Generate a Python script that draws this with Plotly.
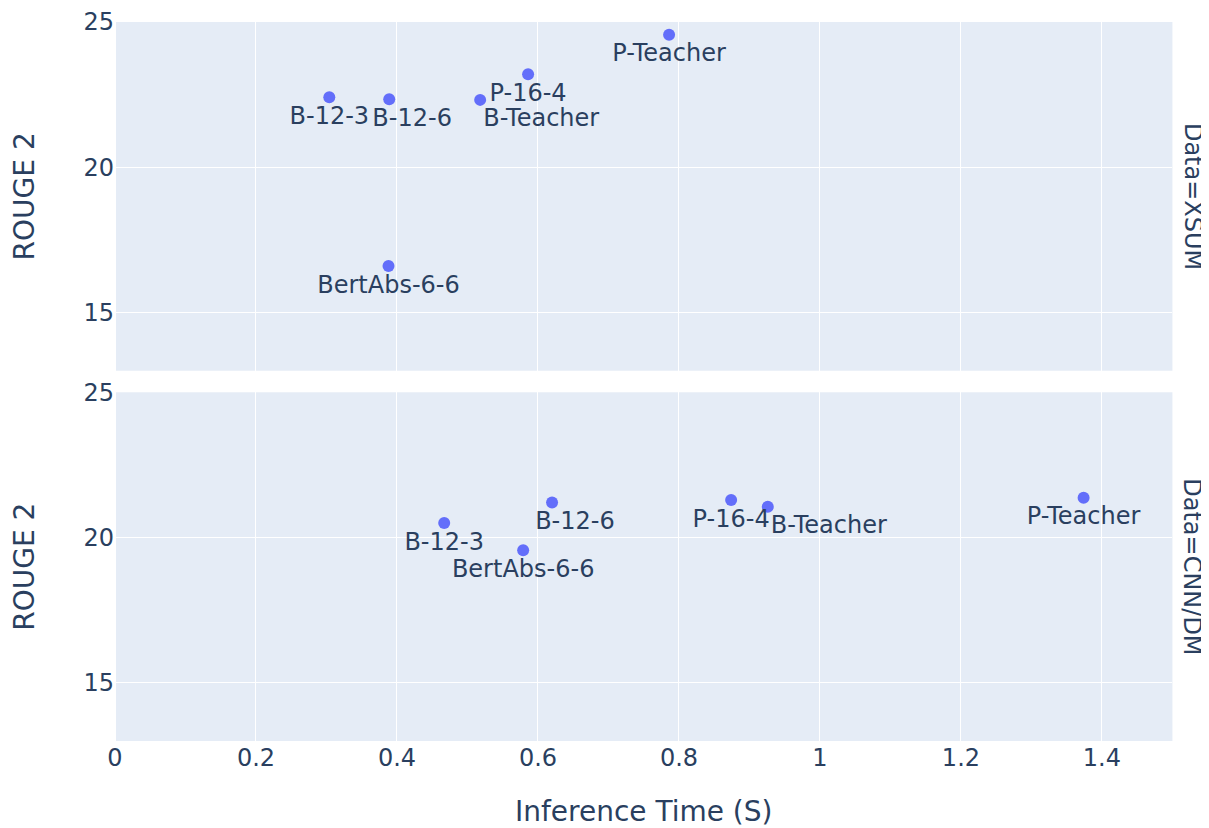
import pandas as pd
import plotly.express as px

NB = "\u00a0"
models = ["P-Teacher", "P-16-4", "B-Teacher", "B-12-6", "B-12-3", "BertAbs-6-6"]
labels = ["P-Teacher", "P-16-4", NB * 16 + "B-Teacher", NB * 6 + "B-12-6", "B-12-3", "BertAbs-6-6"]

xsum_time = [0.786, 0.586, 0.518, 0.389, 0.304, 0.388]
xsum_rouge = [24.56, 23.20, 22.32, 22.34, 22.41, 16.60]
cnn_time = [1.374, 0.874, 0.926, 0.620, 0.467, 0.579]
cnn_rouge = [21.37, 21.29, 21.06, 21.21, 20.50, 19.56]

datasets = ["XSUM", "CNN/DM"]

df = pd.DataFrame({
    "Model": models + models,
    "Label": labels + labels,
    "Inference Time (S)": xsum_time + cnn_time,
    "ROUGE 2": xsum_rouge + cnn_rouge,
    "Data": [datasets[0]] * len(models) + [datasets[1]] * len(models),
})

fig = px.scatter(
    df, x="Inference Time (S)", y="ROUGE 2", facet_row="Data", text="Label",
    category_orders={"Data": datasets},
)
fig.update_traces(textposition="bottom center", marker=dict(size=12),
                  textfont=dict(size=24, family="DejaVu Sans"))
fig.update_xaxes(range=[0, 1.5], domain=[0, 0.98], automargin=False,
                 tickfont=dict(size=24), title_font=dict(size=28))
fig.update_xaxes(title_standoff=33, row=1)
fig.update_yaxes(range=[13, 25], dtick=5, automargin=False,
                 tickfont=dict(size=24), title_font=dict(size=28), title_standoff=44)
fig.for_each_annotation(lambda a: a.update(font=dict(size=24), x=0.98, xanchor="left", xshift=4))
fig.update_layout(
    width=1201, height=820,
    font=dict(family="DejaVu Sans"),
    margin=dict(l=107, r=15, t=14, b=87),
)
fig.write_html("out.html")
